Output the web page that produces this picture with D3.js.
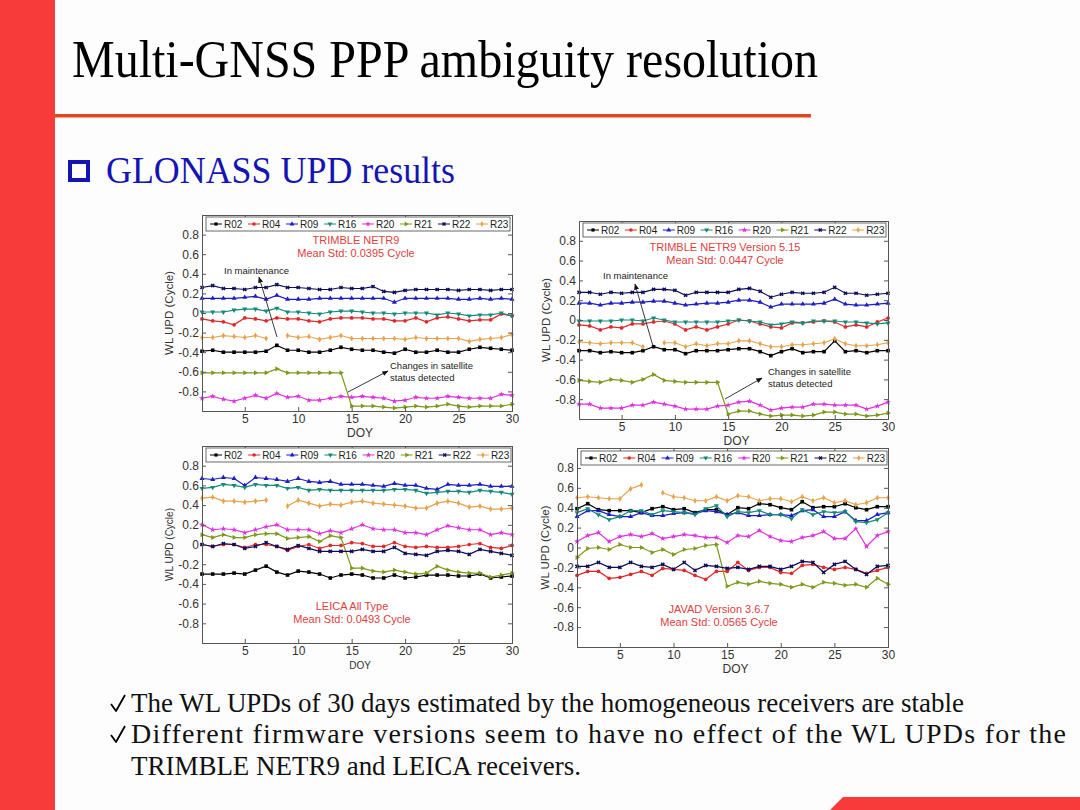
<!DOCTYPE html>
<html>
<head>
<meta charset="utf-8">
<script src="https://cdn.jsdelivr.net/npm/d3@7"></script>
<style>
  body { margin: 0; background: #fff; }
  svg { display: block; }
</style>
</head>
<body>
<svg id="slide" width="1080" height="810"></svg>
<script>
// ---- data ----
const satellites = ["R02", "R04", "R09", "R16", "R20", "R21", "R22", "R23"];
const days = [1,2,3,4,5,6,7,8,9,10,11,12,13,14,15,16,17,18,19,20,21,22,23,24,25,26,27,28,29,30];
const xTicks = [5, 10, 15, 20, 25, 30];
const yTicks = [0.8, 0.6, 0.4, 0.2, 0, -0.2, -0.4, -0.6, -0.8];

// TRIMBLE NETR9 (order follows satellites)
const trimbleValues = [
  [-0.39,-0.38,-0.40,-0.40,-0.40,-0.40,-0.39,-0.33,-0.38,-0.38,-0.40,-0.40,-0.38,-0.35,-0.37,-0.38,-0.38,-0.40,-0.41,-0.37,-0.40,-0.40,-0.38,-0.40,-0.40,-0.37,-0.35,-0.36,-0.37,-0.38],
  [-0.06,-0.08,-0.09,-0.12,-0.05,-0.06,-0.08,-0.05,-0.06,-0.06,-0.08,-0.09,-0.06,-0.05,-0.05,-0.05,-0.06,-0.06,-0.08,-0.08,-0.05,-0.09,-0.05,-0.04,-0.06,-0.08,-0.07,-0.07,-0.01,-0.03],
  [0.15,0.15,0.15,0.15,0.16,0.17,0.14,0.18,0.14,0.14,0.14,0.15,0.15,0.15,0.15,0.15,0.15,0.15,0.11,0.15,0.15,0.15,0.15,0.15,0.14,0.14,0.15,0.14,0.15,0.14],
  [0.01,0.01,0.01,0.03,0.04,0.04,0.02,0.05,0.01,0.01,0.00,-0.01,0.01,0.02,0.02,0.01,0.00,0.00,-0.01,0.00,0.00,0.00,-0.02,0.00,-0.01,-0.03,-0.02,-0.02,0.00,-0.03],
  [-0.87,-0.85,-0.88,-0.90,-0.87,-0.84,-0.87,-0.82,-0.86,-0.85,-0.89,-0.89,-0.87,-0.85,-0.86,-0.85,-0.86,-0.87,-0.90,-0.89,-0.86,-0.87,-0.87,-0.85,-0.86,-0.87,-0.87,-0.87,-0.83,-0.84],
  [-0.61,-0.61,-0.61,-0.61,-0.61,-0.61,-0.61,-0.57,-0.61,-0.61,-0.61,-0.61,-0.61,-0.61,-0.95,-0.95,-0.95,-0.96,-0.97,-0.96,-0.95,-0.96,-0.95,-0.93,-0.95,-0.96,-0.95,-0.95,-0.95,-0.93],
  [0.26,0.28,0.25,0.25,0.24,0.26,0.26,0.29,0.26,0.26,0.25,0.24,0.24,0.26,0.25,0.25,0.27,0.22,0.21,0.23,0.24,0.24,0.24,0.24,0.23,0.24,0.24,0.23,0.24,0.24],
  [-0.25,-0.25,-0.23,-0.24,-0.25,-0.23,-0.26,null,-0.23,-0.25,-0.24,-0.27,-0.25,-0.23,-0.26,-0.26,-0.26,-0.26,-0.26,-0.27,-0.25,-0.26,-0.26,-0.26,-0.26,-0.29,-0.27,-0.26,-0.25,-0.22]
];

// TRIMBLE NETR9 Version 5.15
const trimble515Values = [
  [-0.31,-0.31,-0.33,-0.32,-0.33,-0.33,-0.31,-0.27,-0.30,-0.30,-0.34,-0.31,-0.31,-0.31,-0.30,-0.29,-0.29,-0.32,-0.36,-0.32,-0.29,-0.33,-0.32,-0.32,-0.21,-0.32,-0.31,-0.33,-0.31,-0.31],
  [-0.05,-0.06,-0.10,-0.07,-0.08,-0.04,-0.04,-0.02,-0.01,-0.04,-0.10,-0.07,-0.10,-0.07,-0.04,0.00,-0.01,-0.04,-0.07,-0.08,-0.03,-0.03,-0.02,-0.01,-0.02,-0.07,-0.05,-0.07,-0.02,0.02],
  [0.17,0.17,0.15,0.17,0.17,0.18,0.18,0.19,0.19,0.17,0.15,0.16,0.17,0.17,0.18,0.20,0.20,0.18,0.13,0.16,0.16,0.16,0.16,0.17,0.21,0.16,0.15,0.15,0.16,0.17],
  [-0.01,-0.01,-0.01,-0.01,0.00,0.00,-0.01,0.02,0.00,-0.02,-0.02,-0.02,-0.02,-0.02,-0.01,0.00,-0.01,-0.02,-0.05,-0.04,-0.02,-0.03,-0.01,-0.01,-0.01,-0.02,-0.02,-0.03,-0.04,-0.03],
  [-0.85,-0.85,-0.89,-0.89,-0.89,-0.86,-0.86,-0.83,-0.85,-0.87,-0.90,-0.90,-0.90,-0.87,-0.86,-0.83,-0.82,-0.86,-0.91,-0.89,-0.88,-0.88,-0.85,-0.85,-0.86,-0.86,-0.86,-0.90,-0.87,-0.83],
  [-0.61,-0.62,-0.63,-0.60,-0.61,-0.63,-0.60,-0.55,-0.61,-0.62,-0.63,-0.63,-0.63,-0.63,-0.95,-0.92,-0.92,-0.95,-0.97,-0.96,-0.96,-0.97,-0.96,-0.93,-0.93,-0.95,-0.95,-0.97,-0.96,-0.94],
  [0.28,0.28,0.26,0.28,0.27,0.28,0.28,0.31,0.31,0.30,0.25,0.28,0.28,0.28,0.28,0.31,0.32,0.29,0.23,0.26,0.28,0.27,0.27,0.28,0.33,0.27,0.27,0.25,0.26,0.27],
  [-0.22,-0.23,-0.24,-0.23,-0.23,-0.23,-0.27,null,-0.23,-0.23,-0.27,-0.24,-0.26,-0.24,-0.24,-0.21,-0.21,-0.24,-0.27,-0.27,-0.25,-0.25,-0.24,-0.23,-0.19,-0.24,-0.26,-0.26,-0.25,-0.23]
];

// LEICA All Type
const leicaValues = [
  [-0.30,-0.30,-0.30,-0.29,-0.30,-0.26,-0.22,-0.28,-0.31,-0.27,-0.28,-0.30,-0.34,-0.31,-0.30,-0.31,-0.34,-0.34,-0.31,-0.34,-0.33,-0.31,-0.31,-0.31,-0.32,-0.32,-0.30,-0.34,-0.33,-0.32],
  [0.00,-0.02,0.00,0.00,-0.03,0.00,0.00,-0.02,-0.06,-0.02,0.00,-0.04,-0.01,-0.01,0.02,0.01,-0.02,-0.02,0.02,-0.02,-0.03,-0.02,-0.03,-0.03,-0.02,0.00,0.01,-0.03,-0.04,-0.01],
  [0.67,0.66,0.68,0.67,0.60,0.68,0.67,0.66,0.64,0.67,0.64,0.63,0.64,0.61,0.61,0.61,0.60,0.59,0.62,0.60,0.60,0.57,0.56,0.61,0.60,0.60,0.61,0.59,0.59,0.59],
  [0.57,0.58,0.61,0.60,0.58,0.61,0.60,0.60,0.57,0.58,0.55,0.56,0.55,0.55,0.55,0.55,0.55,0.55,0.56,0.56,0.55,0.52,0.53,0.54,0.54,0.53,0.55,0.54,0.53,0.51],
  [0.20,0.15,0.16,0.15,0.12,0.15,0.18,0.20,0.15,0.15,0.15,0.11,0.14,0.12,0.16,0.20,0.16,0.15,0.15,0.12,0.12,0.10,0.15,0.19,0.17,0.15,0.15,0.10,0.12,0.10],
  [0.10,0.07,0.10,0.07,0.07,0.10,0.11,0.11,0.06,0.07,0.08,0.03,0.09,0.07,-0.24,-0.24,-0.27,-0.28,-0.26,-0.28,-0.30,-0.29,-0.22,-0.26,-0.28,-0.29,-0.29,-0.33,-0.31,-0.29],
  [0.00,-0.02,0.01,0.00,-0.04,-0.02,0.02,-0.02,-0.05,-0.01,-0.04,-0.07,-0.07,-0.07,-0.07,-0.05,-0.07,-0.07,-0.03,-0.09,-0.10,-0.11,-0.07,-0.06,-0.07,-0.10,-0.05,-0.07,-0.09,-0.11],
  [0.47,0.48,0.44,0.44,0.43,0.44,0.45,null,0.39,0.45,0.42,0.39,0.41,0.40,0.43,0.44,0.42,0.41,0.40,0.39,0.37,0.37,0.42,0.44,0.42,0.38,0.39,0.36,0.36,0.37]
];

// JAVAD Version 3.6.7
const javadValues = [
  [0.39,0.44,0.38,0.37,0.37,0.37,0.35,0.39,0.41,0.38,0.39,0.35,0.38,0.38,0.33,0.40,0.39,0.44,0.43,0.40,0.38,0.46,0.40,0.41,0.41,0.44,0.40,0.38,0.41,0.41],
  [-0.28,-0.24,-0.24,-0.31,-0.30,-0.27,-0.24,-0.28,-0.21,-0.22,-0.23,-0.28,-0.32,-0.24,-0.24,-0.15,-0.23,-0.20,-0.20,-0.25,-0.26,-0.18,-0.17,-0.20,-0.22,-0.20,-0.22,-0.26,-0.23,-0.20],
  [0.31,0.37,0.37,0.33,0.31,0.31,0.35,0.32,0.32,0.34,0.35,0.34,0.37,0.36,0.33,0.35,0.32,0.32,0.33,0.33,0.32,0.37,0.38,0.31,0.31,0.36,0.27,0.27,0.33,0.35],
  [0.35,0.39,0.33,0.28,0.31,0.37,0.37,0.33,0.37,0.36,0.35,0.33,0.39,0.42,0.31,0.36,0.35,0.37,0.33,0.33,0.29,0.38,0.33,0.36,0.35,0.36,0.26,0.25,0.28,0.35],
  [0.06,0.12,0.15,0.06,0.11,0.13,0.11,0.14,0.09,0.11,0.13,0.12,0.10,0.10,0.05,0.12,0.11,0.17,0.11,0.07,0.06,0.10,0.12,0.16,0.09,0.09,0.19,0.01,0.12,0.16],
  [-0.10,-0.01,0.00,-0.02,0.03,0.00,0.00,-0.05,-0.02,-0.07,-0.02,-0.01,0.02,0.03,-0.39,-0.35,-0.37,-0.34,-0.36,-0.37,-0.40,-0.37,-0.40,-0.35,-0.36,-0.38,-0.37,-0.40,-0.31,-0.37],
  [-0.19,-0.19,-0.15,-0.20,-0.20,-0.15,-0.19,-0.20,-0.17,-0.22,-0.15,-0.23,-0.18,-0.19,-0.21,-0.20,-0.22,-0.19,-0.19,-0.22,-0.19,-0.14,-0.15,-0.25,-0.17,-0.14,-0.22,-0.27,-0.19,-0.18],
  [0.50,0.51,0.50,0.49,0.49,0.59,0.63,null,0.55,0.51,0.50,0.47,0.47,0.51,0.47,0.52,0.51,0.47,0.49,0.49,0.46,0.51,0.47,0.50,0.45,0.47,0.43,0.45,0.50,0.50]
];

const bullets = [
  "The WL UPDs of 30 days estimated by the homogeneous receivers are stable",
  "Different firmware versions seem to have no effect of the WL UPDs for the",
  "TRIMBLE NETR9 and LEICA receivers."
];

// ---- styles ----
const satColors = ["#000000", "#e02828", "#1c1cc8", "#138a78", "#e030e0", "#7a9a18", "#0c0c58", "#e8a24a"];
const satSymbols = [d3.symbolSquare, d3.symbolCircle, d3.symbolTriangle, d3.symbolTriangle, d3.symbolStar, d3.symbolTriangle, d3.symbolCross, d3.symbolDiamond];
const satRotate = [0, 0, 0, 180, 0, 90, 45, 0];
const sansFont = "'Liberation Sans', Arial, sans-serif";
const serifFont = "'Liberation Serif', 'Times New Roman', serif";
const titleRed = "#e0403c";

const svg = d3.select("#slide");

// ---- slide frame ----
svg.append("rect").attr("width", 1080).attr("height", 810).attr("fill", "#fdfdfd");
svg.append("rect").attr("x", 0).attr("y", 0).attr("width", 55).attr("height", 810).attr("fill", "#f73a3a");
svg.append("text")
  .attr("x", 72).attr("y", 77)
  .attr("font-family", serifFont).attr("font-size", 52)
  .attr("textLength", 746).attr("lengthAdjust", "spacingAndGlyphs")
  .attr("fill", "#000")
  .text("Multi-GNSS PPP ambiguity resolution");
svg.append("rect").attr("x", 55).attr("y", 114).attr("width", 756).attr("height", 3.5).attr("fill", "#e2461e");

svg.append("rect").attr("x", 70).attr("y", 162).attr("width", 18).attr("height", 18)
  .attr("fill", "none").attr("stroke", "#1414b4").attr("stroke-width", 4);
svg.append("text")
  .attr("x", 106).attr("y", 183)
  .attr("font-family", serifFont).attr("font-size", 37)
  .attr("textLength", 349).attr("lengthAdjust", "spacingAndGlyphs")
  .attr("fill", "#1414b4")
  .text("GLONASS UPD results");

// ---- bullets ----
const bulletY = [712, 743, 775];
const bulletW = [833, 935, 450];
const bulletAdjust = ["spacingAndGlyphs", "spacing", "spacingAndGlyphs"];
bullets.forEach((t, i) => {
  if (i < 2) {
    // check mark
    const cy = bulletY[i] - 8;
    svg.append("path")
      .attr("d", `M111,${cy} L116,${cy + 7} L125,${cy - 9}`)
      .attr("fill", "none").attr("stroke", "#000").attr("stroke-width", 1.8)
      .attr("stroke-linejoin", "round");
  }
  svg.append("text").attr("x", 131).attr("y", bulletY[i])
    .attr("font-family", serifFont).attr("font-size", 28)
    .attr("textLength", bulletW[i]).attr("lengthAdjust", bulletAdjust[i])
    .attr("fill", "#111").text(t);
});

svg.append("path")
  .attr("d", "M843,797 L1080,797 L1080,810 L830,810 Z")
  .attr("fill", "#f73a3a");

// ---- arrow marker ----
svg.append("defs").append("marker")
  .attr("id", "arrow").attr("viewBox", "0 0 10 10")
  .attr("refX", 9).attr("refY", 5)
  .attr("markerWidth", 7).attr("markerHeight", 7)
  .attr("orient", "auto")
  .append("path").attr("d", "M0,1 L10,5 L0,9 Z").attr("fill", "#111");

// ---- panels ----
const panels = [
  { values: trimbleValues, x0: 202, x1: 512, y0: 215, y1: 411,
    title: ["TRIMBLE NETR9", "Mean Std: 0.0395 Cycle"], titleX: 356, titleY: 244,
    legend: [206, 217, 304, 14], yLabelX: 173, labelFs: 12,
    notes: [
      { lines: ["In maintenance"], x: 224, y: 274, from: [277, 337], to: [259, 277] },
      { lines: ["Changes in satellite", "status detected"], x: 390, y: 369, from: [348, 392], to: [388, 371] }
    ] },
  { values: trimble515Values, x0: 579, x1: 888, y0: 221, y1: 419,
    title: ["TRIMBLE NETR9 Version 5.15", "Mean Std: 0.0447 Cycle"], titleX: 725, titleY: 251,
    legend: [583, 223, 303, 14], yLabelX: 550, labelFs: 12,
    notes: [
      { lines: ["In maintenance"], x: 603, y: 279, from: [653, 346], to: [635, 284] },
      { lines: ["Changes in satellite", "status detected"], x: 768, y: 375, from: [725, 399], to: [762, 378] }
    ] },
  { values: leicaValues, x0: 202, x1: 512, y0: 446, y1: 643,
    title: ["LEICA All Type", "Mean Std: 0.0493 Cycle"], titleX: 352, titleY: 610,
    legend: [206, 448, 305, 14], yLabelX: 173, labelFs: 10,
    notes: [] },
  { values: javadValues, x0: 577, x1: 888, y0: 448, y1: 647,
    title: ["JAVAD Version 3.6.7", "Mean Std: 0.0565 Cycle"], titleX: 719, titleY: 613,
    legend: [581, 451, 306, 14], yLabelX: 549, labelFs: 12,
    notes: [] }
];

function drawPanel(p) {
  const g = svg.append("g");
  const x = d3.scaleLinear().domain([1, 30]).range([p.x0, p.x1]);
  const y = d3.scaleLinear().domain([-1, 1]).range([p.y1, p.y0]);

  g.append("rect").attr("x", p.x0).attr("y", p.y0)
    .attr("width", p.x1 - p.x0).attr("height", p.y1 - p.y0)
    .attr("fill", "#fff");

  // series
  p.values.forEach((vals, i) => {
    const pts = vals.map((v, j) => ({ d: days[j], v: v }));
    const line = d3.line().defined(d => d.v !== null).x(d => x(d.d)).y(d => y(d.v));
    g.append("path").datum(pts)
      .attr("d", line).attr("fill", "none")
      .attr("stroke", satColors[i]).attr("stroke-width", 1.2);
    const sym = d3.symbol().type(satSymbols[i]).size(i === 0 ? 13 : 11);
    g.selectAll(null).data(pts.filter(d => d.v !== null)).enter()
      .append("path")
      .attr("d", sym)
      .attr("transform", d => `translate(${x(d.d)},${y(d.v)}) rotate(${satRotate[i]})`)
      .attr("fill", satColors[i]);
  });

  // axes, MATLAB style inward ticks
  const fmt = d => d === 0 ? "0" : String(d);
  const bottom = g.append("g").attr("transform", `translate(0,${p.y1})`)
    .call(d3.axisBottom(x).tickValues(xTicks).tickSize(-4).tickPadding(3));
  const left = g.append("g").attr("transform", `translate(${p.x0},0)`)
    .call(d3.axisLeft(y).tickValues(yTicks).tickFormat(fmt).tickSize(-4).tickPadding(3));
  const top = g.append("g").attr("transform", `translate(0,${p.y0})`)
    .call(d3.axisTop(x).tickValues(xTicks).tickSize(-4).tickFormat(""));
  const right = g.append("g").attr("transform", `translate(${p.x1},0)`)
    .call(d3.axisRight(y).tickValues(yTicks).tickSize(-4).tickFormat(""));
  [bottom, left, top, right].forEach(a => {
    a.select(".domain").attr("stroke", "#555");
    a.selectAll(".tick line").attr("stroke", "#555");
    a.selectAll("text").attr("font-family", sansFont).attr("font-size", 12).attr("fill", "#333");
  });

  g.append("text").attr("x", (p.x0 + p.x1) / 2 + 3).attr("y", p.y1 + 26)
    .attr("text-anchor", "middle").attr("font-family", sansFont).attr("font-size", p.labelFs)
    .attr("fill", "#333").text("DOY");
  g.append("text")
    .attr("transform", `translate(${p.yLabelX},${(p.y0 + p.y1) / 2}) rotate(-90)`)
    .attr("text-anchor", "middle").attr("font-family", sansFont).attr("font-size", p.labelFs === 10 ? 10 : 11.5)
    .attr("fill", "#333").text("WL UPD (Cycle)");

  // red title
  p.title.forEach((t, k) => {
    g.append("text").attr("x", p.titleX).attr("y", p.titleY + k * 13)
      .attr("text-anchor", "middle").attr("font-family", sansFont).attr("font-size", 11)
      .attr("fill", titleRed).text(t);
  });

  // notes with arrows
  p.notes.forEach(n => {
    n.lines.forEach((t, k) => {
      g.append("text").attr("x", n.x).attr("y", n.y + k * 12)
        .attr("font-family", sansFont).attr("font-size", 9.5)
        .attr("fill", "#222").text(t);
    });
    g.append("line")
      .attr("x1", n.from[0]).attr("y1", n.from[1])
      .attr("x2", n.to[0]).attr("y2", n.to[1])
      .attr("stroke", "#222").attr("stroke-width", 0.9)
      .attr("marker-end", "url(#arrow)");
  });

  // legend
  const [lx, ly, lw, lh] = p.legend;
  const lg = g.append("g");
  lg.append("rect").attr("x", lx).attr("y", ly).attr("width", lw).attr("height", lh)
    .attr("fill", "#fff").attr("stroke", "#444").attr("stroke-width", 0.8);
  const step = lw / satellites.length;
  satellites.forEach((s, i) => {
    const ex = lx + 4 + i * step;
    const cy = ly + lh / 2;
    lg.append("line").attr("x1", ex).attr("x2", ex + 12).attr("y1", cy).attr("y2", cy)
      .attr("stroke", satColors[i]).attr("stroke-width", 1);
    lg.append("path").attr("d", d3.symbol().type(satSymbols[i]).size(10))
      .attr("transform", `translate(${ex + 6},${cy}) rotate(${satRotate[i]})`)
      .attr("fill", satColors[i]);
    lg.append("text").attr("x", ex + 14).attr("y", cy + 3.5)
      .attr("font-family", sansFont).attr("font-size", 10).attr("fill", "#222").text(s);
  });
}

panels.forEach(drawPanel);
</script>
</body>
</html>
